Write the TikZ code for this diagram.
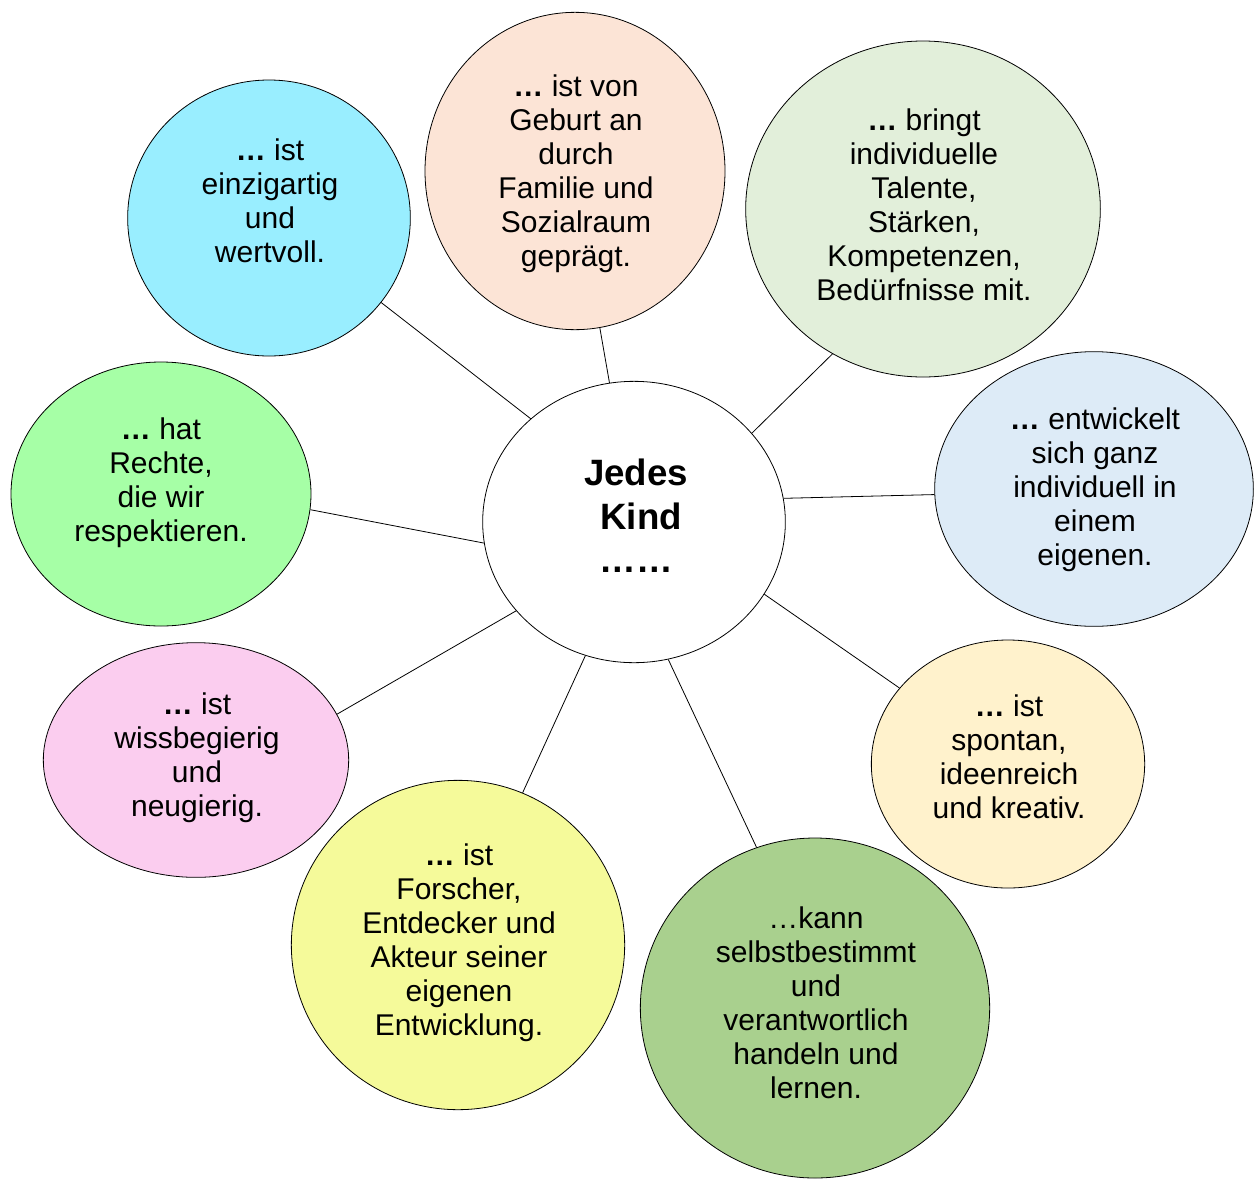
\documentclass[tikz,border=0pt]{standalone}
\usepackage{fontspec}
\setmainfont{Liberation Sans}
\usepackage{xcolor}
\usetikzlibrary{shapes.geometric}
\definecolor{cyanbub}{HTML}{99EEFF}
\definecolor{peachbub}{HTML}{FCE4D6}
\definecolor{sagebub}{HTML}{E2EFDA}
\definecolor{bluebub}{HTML}{DDEBF7}
\definecolor{creambub}{HTML}{FFF2CC}
\definecolor{leafbub}{HTML}{A9D08E}
\definecolor{lemonbub}{HTML}{F5FA9A}
\definecolor{pinkbub}{HTML}{FBCDEF}
\definecolor{limebub}{HTML}{A6FFA6}

\begin{document}
\begin{tikzpicture}[x=0.75pt,y=-0.75pt,
		bub/.style={ellipse,draw=black,line width=0.6pt,inner sep=0pt},
		txt/.style={align=center,font=\fontsize{22.5}{25.5}\selectfont},
		spoke/.style={draw=black,line width=0.6pt}]
		\useasboundingbox (0,0) rectangle (1259,1178);
		% the bubbles
		\node[bub,fill=white,minimum width=227pt,minimum height=211pt] (hub) at (634,522) {};
		\node[bub,fill=cyanbub,minimum width=212pt,minimum height=207pt] (b1) at (269,218) {};
		\node[bub,fill=peachbub,minimum width=225pt,minimum height=238pt] (b2) at (575,171) {};
		\node[bub,fill=sagebub,minimum width=266pt,minimum height=252pt] (b3) at (923,209) {};
		\node[bub,fill=bluebub,minimum width=239pt,minimum height=206pt] (b4) at (1094,489) {};
		\node[bub,fill=creambub,minimum width=205pt,minimum height=186pt] (b5) at (1008,764) {};
		\node[bub,fill=leafbub,minimum width=262pt,minimum height=255pt] (b6) at (815,1008) {};
		\node[bub,fill=lemonbub,minimum width=250pt,minimum height=247pt] (b7) at (458,945) {};
		\node[bub,fill=pinkbub,minimum width=229pt,minimum height=176pt] (b8) at (196,760) {};
		\node[bub,fill=limebub,minimum width=225pt,minimum height=198pt] (b9) at (161,494) {};

		% the texts
		\node[txt,font=\fontsize{27.5}{32.5}\selectfont\bfseries] (thub) at (636,516) {Jedes\\\ Kind\\……};
		\node[txt] (t1) at (270,201) {\textbf{…} ist\\einzigartig\\und\\wertvoll.};
		\node[txt] (t2) at (576,174) {\textbf{…} ist von\\Geburt an\\durch\\Familie und\\Sozialraum\\geprägt.};
		\node[txt] (t3) at (924,205) {\textbf{…} bringt\\individuelle\\Talente,\\Stärken,\\Kompetenzen,\\Bedürfnisse mit.};
		\node[txt] (t4) at (1095,490) {\textbf{…} entwickelt\\sich ganz\\individuell in\\einem\\eigenen.};
		\node[txt] (t5) at (1009,757) {\textbf{…} ist\\spontan,\\ideenreich\\und kreativ.};
		\node[txt] (t6) at (816,1003) {…kann\\selbstbestimmt\\und\\verantwortlich\\handeln und\\lernen.};
		\node[txt] (t7) at (459,943) {\textbf{…} ist\\Forscher,\\Entdecker und\\Akteur seiner\\eigenen\\Entwicklung.};
		\node[txt] (t8) at (197,758) {\textbf{…} ist\\wissbegierig\\und\\neugierig.};
		\node[txt] (t9) at (161,483) {\textbf{…} hat\\Rechte,\\die wir\\respektieren.};

		% the spokes
		\draw[spoke] (hub.135.6) -- (b1.-37.6);
		\draw[spoke] (hub.100.4) -- (b2.-81.8);
		\draw[spoke] (hub.37.9) -- (b3.-122.9);
		\draw[spoke] (hub.9.2) -- (b4.182.2);
		\draw[spoke] (hub.-29.4) -- (b5.145.6);
		\draw[spoke] (hub.-76.4) -- (b6.110.2);
		\draw[spoke] (hub.250) -- (b7.67.6);
		\draw[spoke] (hub.217.3) -- (b8.18.7);
		\draw[spoke] (hub.188) -- (b9.-6.1);
\end{tikzpicture}
\end{document}
